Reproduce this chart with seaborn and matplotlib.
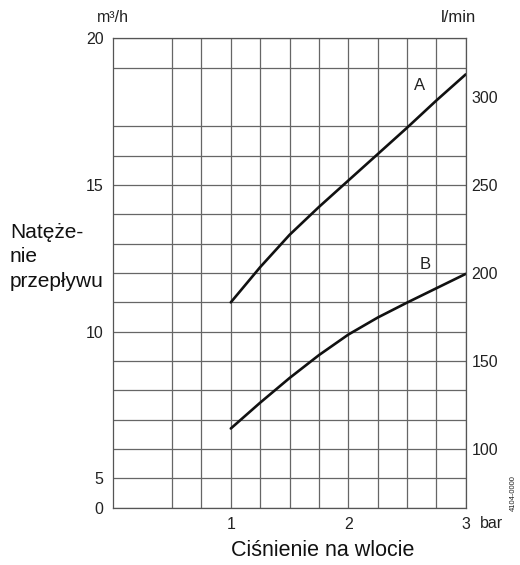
import matplotlib
matplotlib.use("Agg")
import matplotlib.pyplot as plt
import seaborn as sns
import pandas as pd

# pressure (bar) vs flow (m3/h)
pressure = [1.0, 1.25, 1.5, 1.75, 2.0, 2.25, 2.5, 2.75, 3.0]
flow_a = [11.0, 12.2, 13.3, 14.25, 15.15, 16.05, 16.95, 17.88, 18.77]
flow_b = [6.70, 7.58, 8.42, 9.20, 9.90, 10.48, 10.99, 11.48, 11.97]

left_ticks = [4, 5, 10, 15, 20]
left_labels = ['0', '5', '10', '15', '20']
right_ticks = [6, 9, 12, 15, 18]
right_labels = ['100', '150', '200', '250', '300']
x_ticks = [1, 2, 3]
x_minor = [0.5, 0.75, 1.25, 1.5, 1.75, 2.25, 2.5, 2.75]
y_minor = [6, 7, 8, 9, 11, 12, 13, 14, 16, 17, 19]

df = pd.DataFrame({
    'p': pressure * 2,
    'q': flow_a + flow_b,
    'curve': ['A'] * len(pressure) + ['B'] * len(pressure),
})

sns.set_style('white')
plt.rcParams['font.family'] = ['Liberation Sans', 'DejaVu Sans']

fig = plt.figure(figsize=(5.2, 5.65), dpi=100)
ax = fig.add_axes([0.218, 0.1014, 0.6776, 0.8308])

sns.lineplot(data=df, x='p', y='q', units='curve', estimator=None,
             color='#111111', linewidth=1.9, ax=ax, legend=False)

ax.set_xlim(0, 3)
ax.set_ylim(4, 20)
ax.set_xticks(x_ticks)
ax.set_xticklabels(['1', '2', '3'])
ax.set_xticks(x_minor, minor=True)
ax.set_yticks(left_ticks)
ax.set_yticklabels(left_labels)
ax.set_yticks(y_minor, minor=True)
ax.grid(True, which='both', color='#666666', linewidth=0.9)
ax.set_axisbelow(True)
ax.tick_params(which='both', length=0)
ax.tick_params(axis='y', pad=7, labelsize=11.5, colors='#222222')
ax.tick_params(axis='x', pad=7, labelsize=11.5, colors='#222222')
ax.set_xlabel('')
ax.set_ylabel('')
for s in ax.spines.values():
    s.set_color('#555555')
    s.set_linewidth(0.9)

ax2 = ax.twinx()
ax2.set_ylim(4, 20)
ax2.set_yticks(right_ticks)
ax2.set_yticklabels(right_labels)
ax2.tick_params(length=0, pad=4.3, labelsize=11.5, colors='#222222')
for s in ax2.spines.values():
    s.set_visible(False)

ax.text(2.61, 18.4, 'A', ha='center', va='center', fontsize=12, color='#222222')
ax.text(2.655, 12.3, 'B', ha='center', va='center', fontsize=12, color='#222222')

fig.text(113 / 520, 1 - 17 / 565, 'm³/h', ha='center', va='center', fontsize=11.5, color='#222222')
fig.text(459 / 520, 1 - 17 / 565, 'l/min', ha='center', va='center', fontsize=12, color='#222222')
fig.text(491 / 520, 1 - 523 / 565, 'bar', ha='center', va='center', fontsize=11.5, color='#222222')
fig.text(323 / 520, 1 - 551 / 565, 'Ciśnienie na wlocie', ha='center', va='center',
         fontsize=15.5, color='#111111')
fig.text(10 / 520, 1 - 257 / 565, 'Natęże-\nnie\nprzepływu', ha='left', va='center',
         fontsize=15, color='#111111', linespacing=1.35)
fig.text(513 / 520, 1 - 493 / 565, '4104-0000', ha='center', va='center', rotation=90,
         fontsize=5.5, color='#222222')

fig.savefig('out.png', dpi=100)
